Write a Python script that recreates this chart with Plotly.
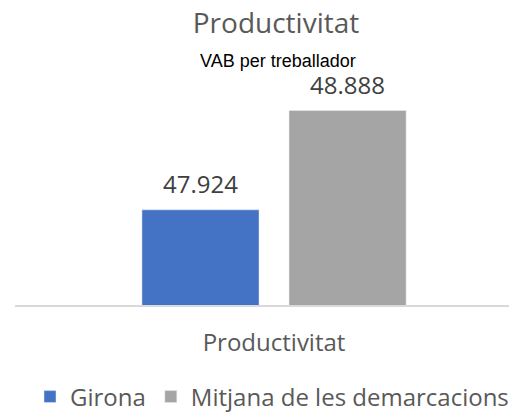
import plotly.graph_objects as go

categories = ["Productivitat"]
girona = [47924]
mitjana = [48888]
series_names = ["Girona", "Mitjana de les demarcacions"]
subtitle = "VAB per treballador"

# page body has an 8px margin; figure coordinates = screen - 8
OFF = 8
W, H = 517 - OFF, 412
ml, mr, mt, mb = 15 - OFF, 0, 91, H - (305 - OFF)
BARGAP, GROUPGAP = 0.414, 0.204

fig = go.Figure()
fig.add_trace(go.Bar(x=categories, y=girona, name=series_names[0],
                     marker_color="#4472C4"))
fig.add_trace(go.Bar(x=categories, y=mitjana, name=series_names[1],
                     marker_color="#A5A5A5"))

off = (1 - BARGAP) / 4
labels = []
for sign, vals in ((-1, girona), (1, mitjana)):
    for cat, v in zip(categories, vals):
        labels.append(dict(x=sign * off, y=v, xref="x", yref="y",
                           text=f"{v:,}".replace(",", "."), showarrow=False,
                           xanchor="center", yanchor="bottom", yshift=8,
                           font=dict(family="Open Sans", size=24, color="#404040")))

px_w = W - ml - mr
px_h = H - mt - mb
top_s = mt + OFF  # screen y of plot top
bot_s = H - mb + OFF  # screen y of plot bottom
fig.update_layout(
    width=W, height=H,
    margin=dict(l=ml, r=mr, t=mt, b=mb, pad=0),
    paper_bgcolor="white", plot_bgcolor="white",
    separators=",.",
    barmode="group", bargap=BARGAP, bargroupgap=GROUPGAP,
    title=dict(text="Productivitat", x=(276 - OFF) / W, xanchor="center",
               y=1 - (23 - OFF) / H, yanchor="middle",
               font=dict(family="Open Sans", size=28, color="#595959")),
    showlegend=True,
    legend=dict(orientation="h", x=(272 - 15) / px_w, xanchor="center",
                y=-(397 - bot_s) / px_h, yanchor="middle",
                font=dict(family="Open Sans", size=24, color="#595959"),
                traceorder="normal"),
    annotations=[dict(text=subtitle, xref="paper", yref="paper",
                      x=(278 - 15) / px_w, y=1 + (top_s - 61) / px_h,
                      xanchor="center", yanchor="middle", showarrow=False,
                      font=dict(family="Liberation Sans", size=18, color="#000000"))] + labels,
)
fig.update_xaxes(range=[-0.516, 0.484], showline=True, linecolor="#D9D9D9", linewidth=2,
                 showgrid=False, ticks="", ticklabelstandoff=15,
                 tickfont=dict(family="Open Sans", size=24, color="#595959"))
fig.update_yaxes(range=[47000, 49000], visible=False, showgrid=False)

fig.write_html("out.html")
